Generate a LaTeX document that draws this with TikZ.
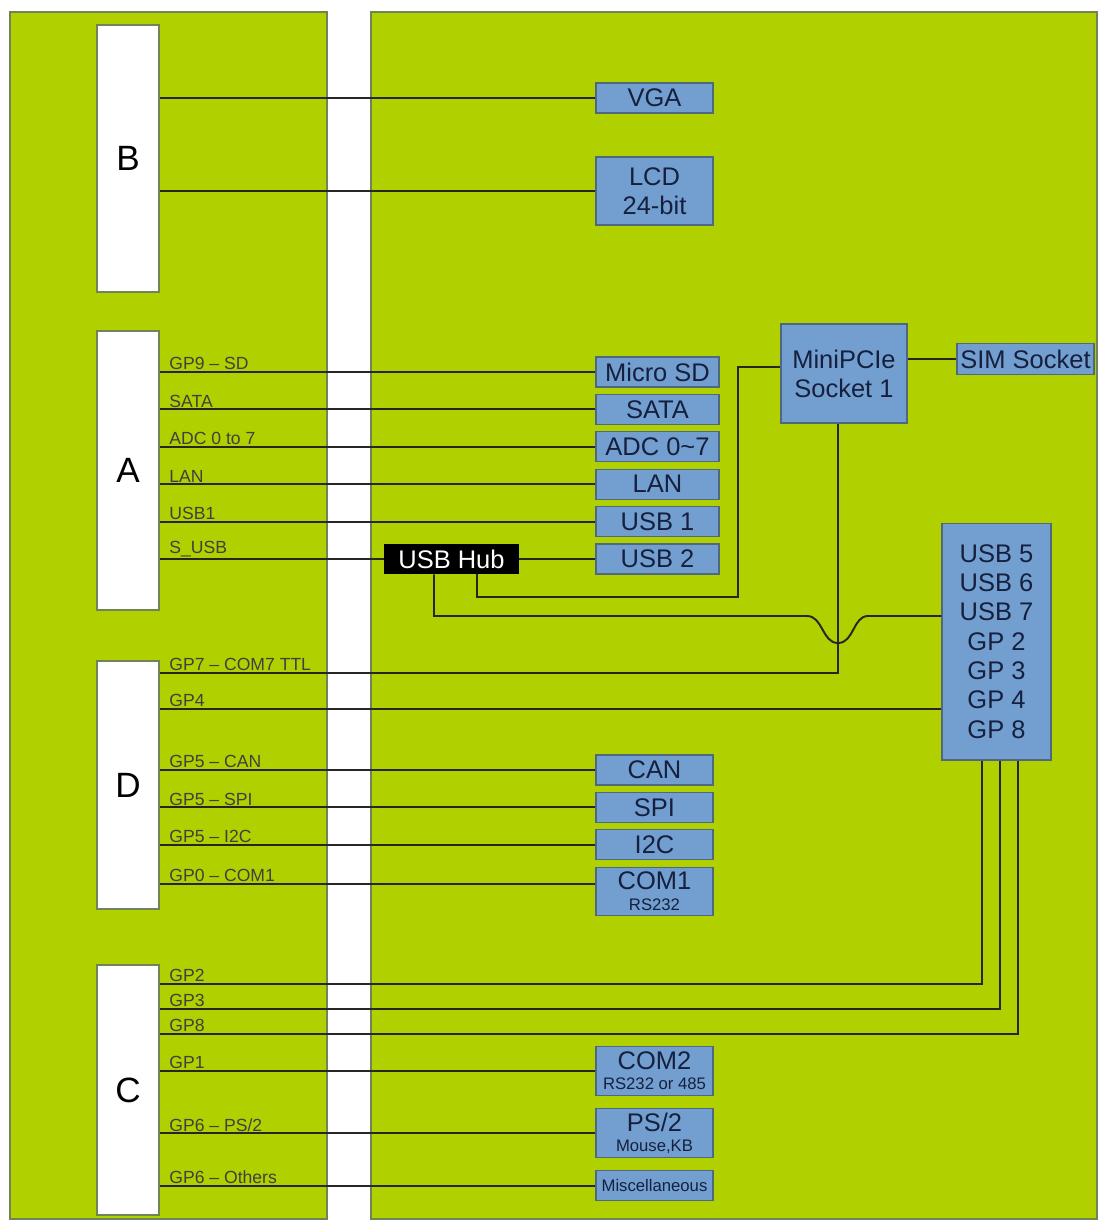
\documentclass[tikz,border=0pt]{standalone}
\usepackage{fontspec}
\setmainfont{Liberation Sans}
\usetikzlibrary{positioning, calc}

\definecolor{boardgreen}{RGB}{176,208,0}
\definecolor{boardedge}{RGB}{112,132,84}
\definecolor{portblue}{RGB}{114,159,207}
\definecolor{portedge}{RGB}{78,104,128}
\definecolor{porttext}{RGB}{22,32,62}

\begin{document}
\begin{tikzpicture}[
    x=0.02cm, y=-0.02cm,
    node distance=0.127cm,
    every node/.style={font=\fontsize{14.5}{16.5}\selectfont},
    panel/.style={draw=boardedge, line width=0.8pt, fill=boardgreen},
    header/.style={rectangle, draw=boardedge, line width=0.8pt, fill=white, minimum width=1.24cm, minimum height=#1, font=\fontsize{20}{24}\selectfont},
    port/.style={rectangle, draw=portedge, line width=0.6pt, fill=portblue, text=porttext, minimum width=2.34cm, minimum height=#1, inner sep=1pt, align=center},
    port/.default=0.6cm,
    hub/.style={rectangle, fill=black, text=white, minimum width=2.7cm, minimum height=0.6cm, inner sep=1pt},
    wire/.style={draw=black!85, line width=1.1pt},
    pinlabel/.style={above right, inner xsep=1pt, inner ysep=0.5pt, xshift=4pt, text=black!75, font=\fontsize{10}{11}\selectfont},
    subtext/.style={font=\fontsize{9.5}{11}\selectfont}
]
\useasboundingbox (0,0) rectangle (1099,1221);

% Board halves
\path[panel] (10,12) rectangle (327,1219);
\path[panel] (371,12) rectangle (1097,1219);

% Connector blocks
\node[header=5.34cm] (B) at (128,158.5) {B};
\node[header=5.58cm] (A) at (128,470.5) {A};
\node[header=4.96cm] (D) at (128,785) {D};
\node[header=5.0cm] (C) at (128,1090) {C};

% Display ports
\node[port] (vga) at (654.5,98) {VGA};
\node[port=1.36cm] (lcd) at (654.5,191) {LCD\\24-bit};

% Block A ports
\node[port, minimum width=2.46cm] (sd) at (657.5,372) {Micro SD};
\node[port, minimum width=2.46cm, below=of sd] (sata) {SATA};
\node[port, minimum width=2.46cm, below=of sata] (adc) {ADC 0\textasciitilde7};
\node[port, minimum width=2.46cm, below=of adc] (lan) {LAN};
\node[port, minimum width=2.46cm, below=of lan] (usbi) {USB 1};
\node[port, minimum width=2.46cm, below=of usbi] (usbii) {USB 2};
\node[hub] (hub) at (451.5,559) {USB Hub};

% Mini PCIe and expansion
\node[port=1.98cm, minimum width=2.52cm] (mpcie) at (844,373.5) {MiniPCIe\\Socket 1};
\node[port=0.62cm, minimum width=2.74cm] (sim) at (1025.5,359) {SIM Socket};
\node[port=4.74cm, minimum width=2.18cm, font=\fontsize{14.5}{16.7}\selectfont] (usbgp) at (996.5,641.5)
    {USB 5\\USB 6\\USB 7\\GP 2\\GP 3\\GP 4\\GP 8};

% Block D ports
\node[port] (can) at (654.5,770) {CAN};
\node[port, below=of can] (spi) {SPI};
\node[port, below=of spi] (itc) {I2C};
\node[port=0.96cm, below=of itc] (comi) {COM1\\[-5pt]{\fontsize{9.5}{11}\selectfont RS232}};

% Block C ports
\node[port=0.98cm] (comii) at (654.5,1071) {COM2\\[-5pt]{\fontsize{9.5}{11}\selectfont RS232 or 485}};
\node[port=0.98cm, below=0.24cm of comii] (psii) {PS/2\\[-5pt]{\fontsize{9.5}{11}\selectfont Mouse,KB}};
\node[port, subtext, below=0.24cm of psii] (misc) {Miscellaneous};

% Pin ends
\coordinate (dgp7) at (D.east |- 0,673);
\coordinate (dgp4) at (D.east |- 0,709);
\coordinate (dgp0) at (D.east |- 0,884);
\coordinate (cgp2) at (C.east |- 0,984);
\coordinate (cgp3) at (C.east |- 0,1009);
\coordinate (cgp8) at (C.east |- 0,1034);

% Block B wires
\draw[wire] (vga.west) -- (vga.west -| B.east);
\draw[wire] (lcd.west) -- (lcd.west -| B.east);

% Block A wires
\foreach \tgt/\lbl in {sd/GP9 -- SD, sata/SATA, adc/ADC 0 to 7, lan/LAN, usbi/USB1}
    \draw[wire] (\tgt.west) -- (\tgt.west -| A.east) node[pinlabel] {\lbl};
\draw[wire] (hub.west) -- (hub.west -| A.east) node[pinlabel] {S\_USB};
\draw[wire] (hub.east) -- (hub.east -| usbii.west);
\draw[wire] ([xshift=0.51cm]hub.south) |- (738,597) |- ([yshift=0.13cm]mpcie.west);
\draw[wire] ([xshift=-0.35cm]hub.south) |- (807,616)
    .. controls (823,616) and (822,643) .. (838,643)
    .. controls (854,643) and (853,616) .. (868,616) -- ([yshift=0.51cm]usbgp.west);
\draw[wire] (sim.west) -- (sim.west -| mpcie.east);

% Block D wires
\draw[wire] ([xshift=-0.12cm]mpcie.south) |- (dgp7) node[pinlabel] {GP7 -- COM7 TTL};
\draw[wire] (usbgp.west |- dgp4) -- (dgp4) node[pinlabel] {GP4};
\foreach \tgt/\lbl in {can/GP5 -- CAN, spi/GP5 -- SPI, itc/GP5 -- I2C}
    \draw[wire] (\tgt.west) -- (\tgt.west -| D.east) node[pinlabel] {\lbl};
\draw[wire] (comi.west |- dgp0) -- (dgp0) node[pinlabel] {GP0 -- COM1};

% Block C wires
\draw[wire] ([xshift=-0.29cm]usbgp.south) |- (cgp2) node[pinlabel] {GP2};
\draw[wire] ([xshift=0.07cm]usbgp.south) |- (cgp3) node[pinlabel] {GP3};
\draw[wire] ([xshift=0.43cm]usbgp.south) |- (cgp8) node[pinlabel] {GP8};
\foreach \tgt/\lbl in {comii/GP1, psii/{GP6 -- PS/2}, misc/GP6 -- Others}
    \draw[wire] (\tgt.west) -- (\tgt.west -| C.east) node[pinlabel] {\lbl};

\end{tikzpicture}
\end{document}
